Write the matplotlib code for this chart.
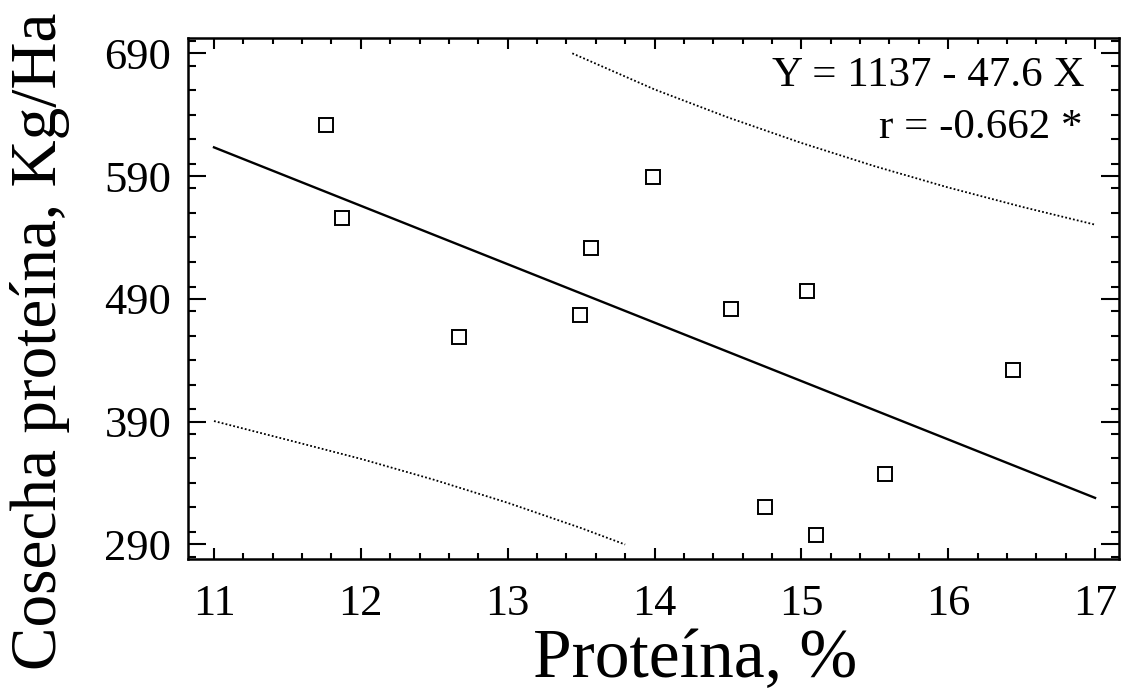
#!/usr/bin/env python3
'''
Protein harvest vs protein content, linear fit with prediction band
'''
import numpy as np
import matplotlib
matplotlib.use('Agg')
import matplotlib.pyplot as plt
from matplotlib.ticker import MultipleLocator

# data points
proteina = [11.76, 11.87, 12.67, 13.49, 13.57, 13.99, 14.52, 15.04, 14.75, 15.10, 15.57, 16.44]
cosecha = [631.6, 555.9, 459.0, 476.7, 531.4, 589.2, 481.7, 496.3, 320.4, 297.6, 347.3, 432.1]

# regression Y = a + b X
intercepto = 1137
pendiente = -47.6
x_fit = [11, 17]

# prediction band (dotted)
banda_sup_x = [13.44, 14.0, 14.5, 15.0, 15.5, 16.0, 16.5, 17.0]
banda_sup_y = [690.0, 660.6, 637.8, 617.0, 598.0, 580.7, 565.0, 550.4]
banda_inf_x = [11.0, 11.5, 12.0, 12.5, 13.0, 13.5, 13.8]
banda_inf_y = [390.4, 375.1, 359.6, 342.5, 323.8, 303.2, 289.8]

x_ticks = [11, 12, 13, 14, 15, 16, 17]
y_ticks = [290, 390, 490, 590, 690]

texto_ecuacion = 'Y = 1137 - 47.6 X'
texto_r = 'r = -0.662 *'


def main():
    plt.rcParams['font.family'] = ['Liberation Serif', 'DejaVu Serif']

    fig = plt.figure(figsize=(11.21, 6.93), dpi=100)
    ax = fig.add_axes([188 / 1121, 1 - 559 / 693, (1119 - 188) / 1121, (559 - 38) / 693])

    xf = np.array(x_fit, dtype=float)
    ax.plot(xf, intercepto + pendiente * xf, color='black', lw=1.7)
    ax.plot(banda_sup_x, banda_sup_y, color='black', lw=1.3, linestyle=(0, (1, 1.2)))
    ax.plot(banda_inf_x, banda_inf_y, color='black', lw=1.3, linestyle=(0, (1, 1.2)))
    ax.plot(proteina, cosecha, linestyle='none', marker='s', markersize=9.5,
            markerfacecolor='white', markeredgecolor='black', markeredgewidth=1.4)

    ax.set_xlim(10.823, 17.163)
    ax.set_ylim(278.0, 702.5)
    ax.set_xticks(x_ticks)
    ax.set_yticks(y_ticks)
    ax.xaxis.set_minor_locator(MultipleLocator(0.2))
    ax.yaxis.set_minor_locator(MultipleLocator(20))

    ax.tick_params(axis='both', which='both', direction='in', top=True, right=True,
                   width=1.5, labelsize=32, colors='black')
    ax.tick_params(axis='x', which='major', length=8, pad=18)
    ax.tick_params(axis='x', which='minor', length=4)
    ax.tick_params(axis='y', which='major', length=13, pad=12)
    ax.tick_params(axis='y', which='minor', length=6)
    for s in ax.spines.values():
        s.set_linewidth(1.8)

    ax.set_xlabel('Proteína, %', fontsize=50)
    ax.xaxis.set_label_coords((695 - 188) / 931, (559 - 660) / 521)
    ax.xaxis.label.set_va('center')
    ax.set_ylabel('Cosecha proteína, Kg/Ha', fontsize=47)
    ax.yaxis.set_label_coords((40 - 188) / 931, (559 - 341) / 521)
    ax.yaxis.label.set_va('center')

    ax.text(0.963, 0.927, texto_ecuacion, transform=ax.transAxes, ha='right', va='center',
            fontsize=31)
    ax.text(0.961, 0.828, texto_r, transform=ax.transAxes, ha='right', va='center',
            fontsize=31)

    fig.savefig('out.png', dpi=100)


if __name__ == '__main__':
    main()
